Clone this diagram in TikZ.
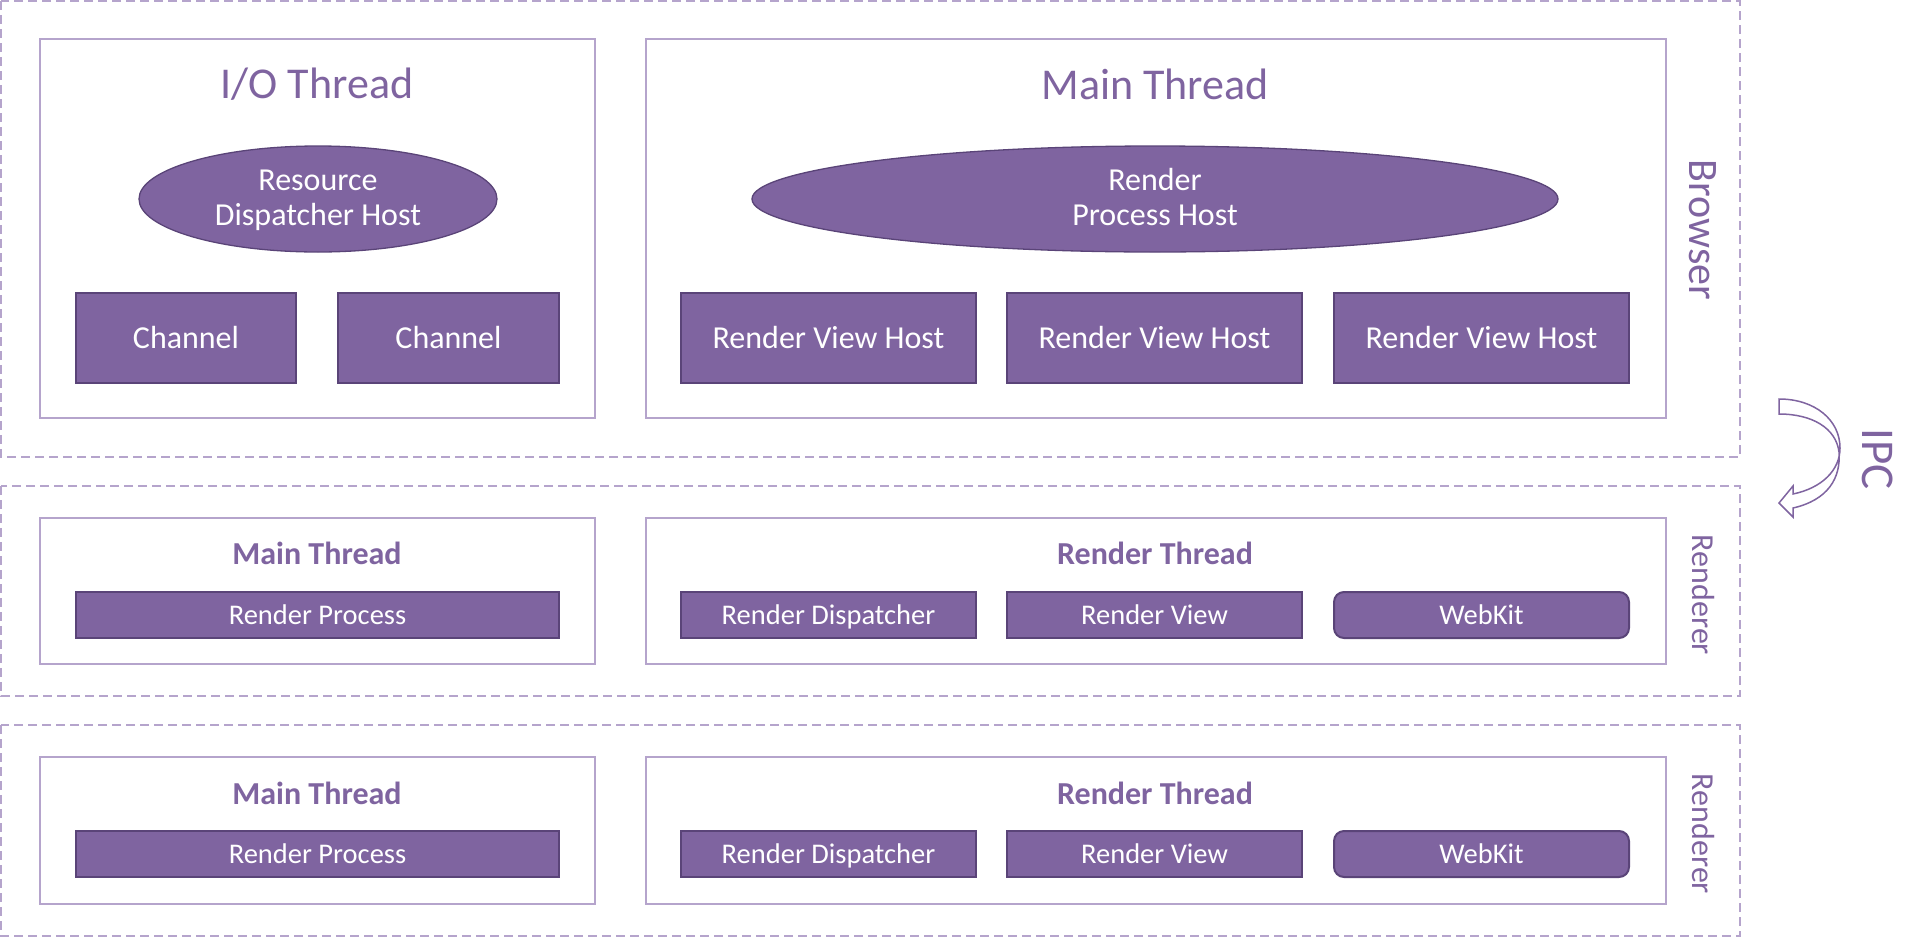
\documentclass[tikz,border=0pt]{standalone}
\usepackage{fontspec}
\setmainfont{Carlito}
\usetikzlibrary{shapes.geometric}
\definecolor{pfill}{HTML}{7F64A0}
\definecolor{pdark}{HTML}{5A4478}
\definecolor{plight}{HTML}{B5A4CC}
\definecolor{ptext}{HTML}{7F64A0}
\tikzset{
  outer/.style={draw=plight, line width=2.3pt, dash pattern=on 9pt off 5pt},
  thread/.style={draw=plight, line width=2pt, fill=white},
  comp/.style={draw=pdark, line width=2pt, fill=pfill, text=white, inner sep=0pt, text height=23pt, text depth=2pt, font=\fontsize{32}{36}\selectfont},
  small/.style={draw=pdark, line width=2pt, fill=pfill, text=white, inner sep=0pt, text height=21pt, text depth=2pt, font=\fontsize{28.5}{32}\selectfont},
  oval/.style={ellipse, draw=pdark, line width=1.3pt, fill=pfill, inner sep=0pt},
  ovaltext/.style={text=white, anchor=base, inner sep=0pt, font=\fontsize{32}{34}\selectfont},
  bigtitle/.style={text=ptext, font=\fontsize{44}{48}\selectfont},
  smalltitle/.style={text=ptext, font=\bfseries\fontsize{32}{36}\selectfont},
  side/.style={text=ptext, rotate=-90, font=\fontsize{42}{46}\selectfont},
  sidesm/.style={text=ptext, rotate=-90, font=\fontsize{32}{36}\selectfont},
}
\begin{document}
\begin{tikzpicture}[x=1pt,y=-1pt]
\useasboundingbox (0,0) rectangle (1921,937);
% outer dashed groups
\draw[outer] (1,1) rectangle (1740,457);
\draw[outer] (1,486) rectangle (1740,696);
\draw[outer] (1,725) rectangle (1740,936);
% browser threads
\draw[thread] (40,39) rectangle (595,418);
\draw[thread] (646,39) rectangle (1666,418);
\node[bigtitle] (iot) at (317,84) {I/O Thread};
\node[bigtitle] (bmt) at (1155,84) {Main Thread};
\node[oval, minimum width=358pt, minimum height=106pt] (rdh) at (318,199) {};
\node[ovaltext] (rdh1) at (318,190) {Resource};
\node[ovaltext] (rdh2) at (318,225) {Dispatcher Host};
\node[oval, minimum width=806pt, minimum height=106pt] (rph) at (1155,199) {};
\node[ovaltext] (rph1) at (1155,190) {Render};
\node[ovaltext] (rph2) at (1155,225) {Process Host};
\node[comp, minimum width=220pt, minimum height=90pt] (ch1) at (186,338) {Channel};
\node[comp, minimum width=221pt, minimum height=90pt] (ch2) at (448.5,338) {Channel};
\node[comp, minimum width=295pt, minimum height=90pt] (rvh1) at (828.5,338) {Render View Host};
\node[comp, minimum width=295pt, minimum height=90pt] (rvh2) at (1154.5,338) {Render View Host};
\node[comp, minimum width=295pt, minimum height=90pt] (rvh3) at (1481.5,338) {Render View Host};
\node[side] (brw) at (1703,230) {Browser};
% renderer 1
\draw[thread] (40,518) rectangle (595,664);
\draw[thread] (646,518) rectangle (1666,664);
\node[smalltitle] (mt1) at (317,553) {Main Thread};
\node[smalltitle] (rt1) at (1155,553) {Render Thread};
\node[small, minimum width=483pt, minimum height=46pt] (rp1) at (317.5,615) {Render Process};
\node[small, minimum width=295pt, minimum height=46pt] (rd1) at (828.5,615) {Render Dispatcher};
\node[small, minimum width=295pt, minimum height=46pt] (rv1) at (1154.5,615) {Render View};
\node[small, rounded corners=10pt, minimum width=295pt, minimum height=46pt] (wk1) at (1481.5,615) {WebKit};
\node[sidesm] (ren1) at (1703,595) {Renderer};
% renderer 2
\draw[thread] (40,757) rectangle (595,904);
\draw[thread] (646,757) rectangle (1666,904);
\node[smalltitle] (mt2) at (317,793) {Main Thread};
\node[smalltitle] (rt2) at (1155,793) {Render Thread};
\node[small, minimum width=483pt, minimum height=46pt] (rp2) at (317.5,854) {Render Process};
\node[small, minimum width=295pt, minimum height=46pt] (rd2) at (828.5,854) {Render Dispatcher};
\node[small, minimum width=295pt, minimum height=46pt] (rv2) at (1154.5,854) {Render View};
\node[small, rounded corners=10pt, minimum width=295pt, minimum height=46pt] (wk2) at (1481.5,854) {WebKit};
\node[sidesm] (ren2) at (1703,834) {Renderer};
% IPC arrow
\draw[draw=pfill, line width=1.5pt, fill=white, line join=miter]
  (1779,399) .. controls (1815,399) and (1840,420) .. (1840,448)
  .. controls (1840,470) and (1822,488) .. (1793,494)
  -- (1793,486) -- (1779,503) -- (1793,517) -- (1793,508)
  .. controls (1828,500) and (1841,478) .. (1839,452)
  .. controls (1836,428) and (1812,414) .. (1779,414) -- cycle;
\node[side, font=\fontsize{47}{50}\selectfont] (ipc) at (1878,459) {IPC};
\end{tikzpicture}
\end{document}
